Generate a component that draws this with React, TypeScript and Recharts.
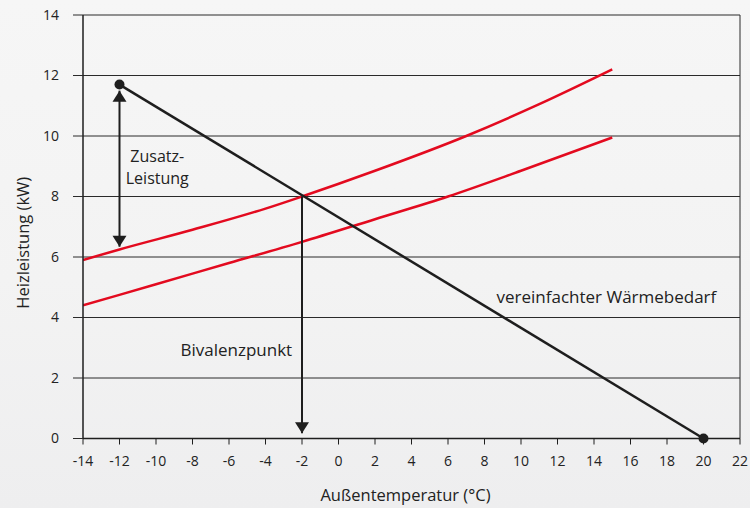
import React from 'react';
import {
  ComposedChart,
  Line,
  XAxis,
  YAxis,
  CartesianGrid,
  ReferenceLine,
  ReferenceDot,
} from 'recharts';

const xTicks = [-14, -12, -10, -8, -6, -4, -2, 0, 2, 4, 6, 8, 10, 12, 14, 16, 18, 20, 22];
const yTicks = [0, 2, 4, 6, 8, 10, 12, 14];

const upperX = [-14, -12, -8, -4, -2, 2, 7, 11, 15];
const upperY = [5.9, 6.25, 6.9, 7.6, 8.0, 8.85, 10.0, 11.05, 12.2];

const lowerX = [-14, -10, -6, -2, 2, 6, 10, 15];
const lowerY = [4.4, 5.1, 5.8, 6.5, 7.25, 8.0, 8.85, 9.95];

const demandX = [-12, 20];
const demandY = [11.7, 0];

const extraArrow = { x: -12, yFrom: 6.34, yTo: 11.5 };
const bivalentArrow = { x: -2, yFrom: 8, yTo: 0.17 };

const annotations = [
  { lines: ['Zusatz-', 'Leistung'], x: -9.93, y: 8.97, size: 16 },
  { lines: ['Bivalenzpunkt'], x: -5.6, y: 2.93, size: 17 },
  { lines: ['vereinfachter Wärmebedarf'], x: 14.68, y: 4.68, size: 17 },
];

const toData = (xs: number[], ys: number[]) => xs.map((x, i) => ({ x, y: ys[i] }));
const upperData = toData(upperX, upperY);
const lowerData = toData(lowerX, lowerY);
const demandData = toData(demandX, demandY);

const FONT = '"Open Sans", sans-serif';
const DARK = '#1e1e1e';
const RED = '#e30a1f';

const ArrowHead = (dir: 'up' | 'down') => (props: any) => {
  const { cx, cy } = props;
  const h = 11;
  const w = 7;
  const by = dir === 'up' ? cy + h : cy - h;
  return <polygon points={`${cx},${cy} ${cx - w},${by} ${cx + w},${by}`} fill={DARK} />;
};

const TextShape = (lines: string[], size: number) => (props: any) => {
  const { cx, cy } = props;
  const lh = 22;
  const startY = cy - ((lines.length - 1) * lh) / 2;
  return (
    <g>
      {lines.map((l, i) => (
        <text
          key={l}
          x={cx}
          y={startY + i * lh}
          textAnchor="middle"
          dominantBaseline="central"
          fontFamily={FONT}
          fontSize={size}
          fill="#222"
        >
          {l}
        </text>
      ))}
    </g>
  );
};

const YTitle = (props: any) => {
  const { viewBox } = props;
  const cx = viewBox.x + 22;
  const cy = viewBox.y + viewBox.height / 2 + 16;
  return (
    <text
      x={cx}
      y={cy}
      transform={`rotate(-90, ${cx}, ${cy})`}
      textAnchor="middle"
      dominantBaseline="central"
      fontFamily={FONT}
      fontSize={16.5}
      fill="#222"
    >
      Heizleistung (kW)
    </text>
  );
};

const XTitle = (props: any) => {
  const { viewBox } = props;
  const cx = viewBox.x + viewBox.width / 2 - 6;
  const cy = viewBox.y + viewBox.height - 3;
  return (
    <text x={cx} y={cy} textAnchor="middle" fontFamily={FONT} fontSize={16.5} fill="#222">
      Außentemperatur (°C)
    </text>
  );
};

export default function App() {
  return (
    <div
      style={{
        position: 'absolute',
        left: 0,
        top: 0,
        width: 750,
        height: 508,
        background: 'linear-gradient(180deg, #f6f6f6 0%, #f3f3f3 55%, #eeeeef 100%)',
      }}
    >
      <ComposedChart
        width={750}
        height={508}
        margin={{ top: 15, right: 10, bottom: 4.5, left: 0 }}
      >
        <CartesianGrid vertical={false} stroke="#2a2a2a" strokeWidth={1} />
        <XAxis
          type="number"
          dataKey="x"
          domain={[-14, 22]}
          ticks={xTicks}
          interval={0}
          allowDataOverflow
          height={65}
          tickSize={6}
          tickMargin={12}
          axisLine={{ stroke: DARK, strokeWidth: 1.5 }}
          tickLine={{ stroke: DARK, strokeWidth: 1 }}
          tick={{ fontFamily: FONT, fontSize: 14, fill: '#222' }}
          label={{ content: XTitle }}
        />
        <YAxis
          type="number"
          domain={[0, 14]}
          ticks={yTicks}
          interval={0}
          width={83}
          tickSize={10}
          tickMargin={14}
          axisLine={{ stroke: DARK, strokeWidth: 1.5 }}
          tickLine={{ stroke: '#2a2a2a', strokeWidth: 1 }}
          tick={{ fontFamily: FONT, fontSize: 14, fill: '#222' }}
          label={{ content: YTitle }}
        />
        <ReferenceLine x={22} stroke="#2a2a2a" strokeWidth={1} />

        <Line
          data={lowerData}
          dataKey="y"
          type="monotone"
          stroke={RED}
          strokeWidth={2.5}
          dot={false}
          isAnimationActive={false}
        />
        <Line
          data={upperData}
          dataKey="y"
          type="monotone"
          stroke={RED}
          strokeWidth={2.5}
          dot={false}
          isAnimationActive={false}
        />
        <Line
          data={demandData}
          dataKey="y"
          type="linear"
          stroke={DARK}
          strokeWidth={2.5}
          dot={{ r: 5, fill: DARK, stroke: 'none' }}
          isAnimationActive={false}
        />

        <ReferenceLine
          segment={[
            { x: extraArrow.x, y: extraArrow.yFrom },
            { x: extraArrow.x, y: extraArrow.yTo },
          ]}
          stroke={DARK}
          strokeWidth={2}
        />
        <ReferenceDot x={extraArrow.x} y={extraArrow.yTo} r={0} shape={ArrowHead('up')} />
        <ReferenceDot x={extraArrow.x} y={extraArrow.yFrom} r={0} shape={ArrowHead('down')} />

        <ReferenceLine
          segment={[
            { x: bivalentArrow.x, y: bivalentArrow.yFrom },
            { x: bivalentArrow.x, y: bivalentArrow.yTo },
          ]}
          stroke={DARK}
          strokeWidth={2}
        />
        <ReferenceDot x={bivalentArrow.x} y={bivalentArrow.yTo} r={0} shape={ArrowHead('down')} />

        {annotations.map((a) => (
          <ReferenceDot
            key={a.lines[0]}
            x={a.x}
            y={a.y}
            r={0}
            shape={TextShape(a.lines, a.size)}
          />
        ))}
      </ComposedChart>
    </div>
  );
}
